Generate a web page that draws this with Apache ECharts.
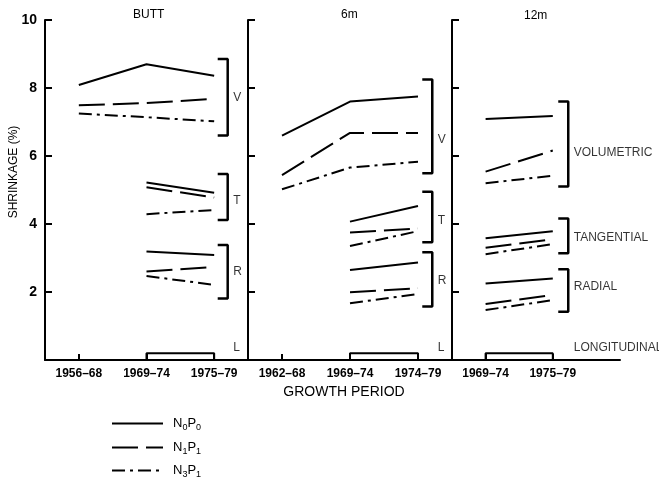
<!DOCTYPE html>
<html>
<head>
<meta charset="utf-8">
<script src="https://cdn.jsdelivr.net/npm/echarts@6/dist/echarts.min.js"></script>
<style>html,body{margin:0;padding:0;background:#fff;}#chart{width:659px;height:477px;}</style>
</head>
<body>
<div id="chart"></div>
<script>
// ---- Data ----
const panelTitles = ['BUTT', '6m', '12m'];
const periodsButt = ['1956–68', '1969–74', '1975–79'];
const periods6m = ['1962–68', '1969–74', '1974–79'];
const periods12m = ['1969–74', '1975–79'];
const treatments = ['N0P0', 'N1P1', 'N3P1'];
const yTicks = [0, 2, 4, 6, 8, 10];

// rows: N0P0, N1P1, N3P1 ; columns: growth periods
const buttVolumetric = [[8.09, 8.70, 8.36], [7.49, 7.56, 7.68], [7.25, 7.14, 7.02]];
const buttTangential = [[null, 5.22, 4.92], [null, 5.08, 4.78], [null, 4.29, 4.41]];
const buttRadial = [[null, 3.19, 3.09], [null, 2.60, 2.74], [null, 2.47, 2.21]];
const buttLongitudinal = [null, 0.2, 0.2];

const m6Volumetric = [[6.60, 7.60, 7.75], [5.44, 6.68, 6.68], [5.02, 5.66, 5.83]];
const m6Tangential = [[null, 4.07, 4.53], [null, 3.75, 3.87], [null, 3.35, 3.79]];
const m6Radial = [[null, 2.65, 2.87], [null, 1.99, 2.11], [null, 1.67, 1.94]];
const m6Longitudinal = [null, 0.2, 0.2];

const m12Volumetric = [[7.09, 7.18], [5.54, 6.16], [5.20, 5.42]];
const m12Tangential = [[3.58, 3.79], [3.30, 3.55], [3.11, 3.41]];
const m12Radial = [[2.25, 2.40], [1.65, 1.91], [1.47, 1.76]];
const m12Longitudinal = [0.2, 0.2];

// bracket ranges [top, bottom] for V, T, R
const buttBrackets = [[8.85, 6.60], [5.47, 4.12], [3.38, 1.81]];
const m6Brackets = [[8.25, 5.49], [4.95, 3.46], [3.17, 1.57]];
const m12Brackets = [[7.60, 5.10], [4.16, 3.14], [2.67, 1.42]];
const shortLabels = ['V', 'T', 'R', 'L'];
const longLabels = ['VOLUMETRIC', 'TANGENTIAL', 'RADIAL', 'LONGITUDINAL'];

// ---- Build ----
const font = 'Liberation Sans, Arial, Helvetica, sans-serif';
const dashFor = { N0P0: 'solid', N1P1: [26, 8], N3P1: [13, 5, 3, 5] };
const panels = [
  { periods: periodsButt, groups: [buttVolumetric, buttTangential, buttRadial], longi: buttLongitudinal, brackets: buttBrackets, labels: shortLabels, xMax: 3, bx: 2.70, labelShift: [0, -0.1, 0] },
  { periods: periods6m, groups: [m6Volumetric, m6Tangential, m6Radial], longi: m6Longitudinal, brackets: m6Brackets, labels: shortLabels, xMax: 3, bx: 2.71, labelShift: [-0.4, -0.1, -0.04] },
  { periods: periods12m, groups: [m12Volumetric, m12Tangential, m12Radial], longi: m12Longitudinal, brackets: m12Brackets, labels: longLabels, xMax: 2.5, bx: 1.73, labelShift: [-0.25, -0.05, 0.12] }
];
const gridLeft = [45, 248, 452];
const gridWidth = [203, 204, 168];

const grid = [], xAxis = [], yAxis = [], series = [];
panels.forEach((p, g) => {
  grid.push({ left: gridLeft[g], top: 20, width: gridWidth[g], height: 340 });
  const pos = p.periods.map((_, i) => i + 0.5);
  xAxis.push({
    type: 'value', gridIndex: g, min: 0, max: p.xMax,
    splitLine: { show: false },
    axisLine: { show: true, lineStyle: { color: '#000', width: 2 } },
    axisTick: { show: true, inside: true, length: 6, customValues: pos, lineStyle: { color: '#000', width: 2 } },
    axisLabel: {
      show: true, customValues: pos, margin: 8, color: '#000', fontFamily: font, fontSize: 12, fontWeight: 'bold',
      formatter: v => p.periods[Math.round(v - 0.5)] || ''
    }
  });
  yAxis.push({
    type: 'value', gridIndex: g, min: yTicks[0], max: yTicks[yTicks.length - 1], interval: 2,
    splitLine: { show: false },
    axisLine: { show: true, lineStyle: { color: '#000', width: 2 } },
    axisTick: { show: true, inside: true, length: 7, lineStyle: { color: '#000', width: 2 } },
    axisLabel: { show: g === 0, margin: 8, color: '#000', fontFamily: font, fontSize: 14, fontWeight: 'bold',
      formatter: v => (v === 0 ? '' : String(v)) }
  });
  // data lines
  p.groups.forEach(rows => {
    rows.forEach((vals, t) => {
      series.push({
        type: 'line', name: treatments[t], xAxisIndex: g, yAxisIndex: g, silent: true,
        data: vals.map((v, i) => (v == null ? null : [i + 0.5, v])).filter(d => d),
        symbol: 'none', itemStyle: { color: '#000' },
        lineStyle: { color: '#000', width: 2, type: dashFor[treatments[t]] }
      });
    });
  });
  // longitudinal
  const lp = [];
  p.longi.forEach((v, i) => { if (v != null) lp.push([i + 0.5, v]); });
  series.push({
    type: 'line', xAxisIndex: g, yAxisIndex: g, silent: true, symbol: 'none',
    data: [[lp[0][0], 0], ...lp, [lp[lp.length - 1][0], 0]],
    lineStyle: { color: '#000', width: 2 }
  });
  // brackets
  const dx = 10 / (gridWidth[g] / p.xMax);
  p.brackets.forEach(b => {
    series.push({
      type: 'line', xAxisIndex: g, yAxisIndex: g, silent: true, symbol: 'none',
      data: [[p.bx - dx, b[0]], [p.bx, b[0]], [p.bx, b[1]], [p.bx - dx, b[1]]],
      lineStyle: { color: '#000', width: 2.5 }
    });
  });
  // bracket labels
  const labelData = p.brackets.map((b, k) => ({ value: [p.bx, (b[0] + b[1]) / 2 + p.labelShift[k]], name: p.labels[k] }));
  labelData.push({ value: [p.bx, 0.36], name: p.labels[3] });
  series.push({
    type: 'scatter', xAxisIndex: g, yAxisIndex: g, silent: true, symbolSize: 1,
    itemStyle: { color: 'rgba(0,0,0,0)' }, data: labelData,
    label: { show: true, position: 'right', distance: 5, formatter: d => d.name, color: '#000', fontFamily: font, fontSize: 12 }
  });
});

const legendTops = [417, 441, 464];
const legend = treatments.map((t, i) => ({
  data: [t], orient: 'horizontal', left: 111, top: legendTops[i], padding: 0,
  itemWidth: 51, itemHeight: 14, selectedMode: false,
  itemStyle: { opacity: 0 },
  textStyle: {
    color: '#000', fontFamily: font,
    rich: {
      f: { fontSize: 13, fontFamily: font, color: '#000', lineHeight: 18, padding: [0, 0, 0, 5] },
      b: { fontSize: 13, fontFamily: font, color: '#000', lineHeight: 18 },
      s: { fontSize: 9, fontFamily: font, color: '#000', verticalAlign: 'bottom', padding: [7, 0, 0, 0] }
    }
  },
  formatter: n => `{f|${n[0]}}{s|${n[1]}}{b|${n[2]}}{s|${n[3]}}`
}));

const chart = echarts.init(document.getElementById('chart'));
chart.setOption({
  animation: false,
  backgroundColor: '#fff',
  grid, xAxis, yAxis, series, legend,
  graphic: [
    { type: 'text', left: 133, top: 9, style: { text: panelTitles[0], font: `12px ${font}`, fill: '#000' } },
    { type: 'text', left: 341, top: 9, style: { text: panelTitles[1], font: `12px ${font}`, fill: '#000' } },
    { type: 'text', left: 524, top: 10, style: { text: panelTitles[2], font: `12px ${font}`, fill: '#000' } },
    { type: 'text', x: 14, y: 172, rotation: Math.PI / 2, style: { text: 'SHRINKAGE (%)', font: `12px ${font}`, fill: '#000', align: 'center', verticalAlign: 'middle' } },
    { type: 'text', x: 344, y: 392, style: { text: 'GROWTH PERIOD', font: `14px ${font}`, fill: '#000', align: 'center', verticalAlign: 'middle' } }
  ]
});
</script>
</body>
</html>
